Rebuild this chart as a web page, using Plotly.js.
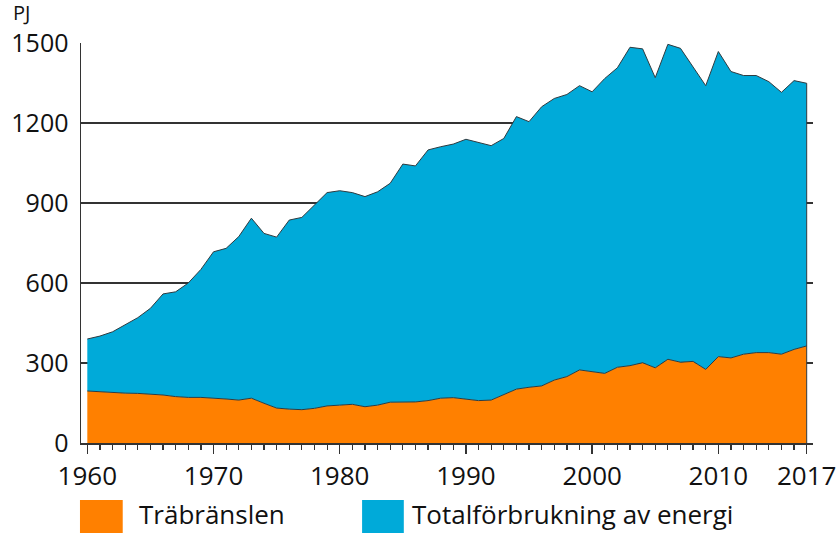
<!DOCTYPE html>
<html>
<head>
<meta charset="utf-8">
<script src="https://cdn.plot.ly/plotly-3.0.1.min.js"></script>
<style>
  html, body { margin: 0; padding: 0; background: #fff; }
  #grafica { width: 837px; height: 533px; }
</style>
</head>
<body>
<div id="grafica"></div>
<script>
// values, PJ per year
const anos = [];
for (let a = 1960; a <= 2017; a++) anos.push(a);

const trabransle = [
  195, 192, 189, 187, 186, 184, 180, 174, 171, 171,
  169, 165, 161, 168, 149, 131, 127, 125, 130, 139,
  142, 145, 136, 142, 153, 153, 154, 159, 168, 170,
  165, 159, 161, 182, 202, 209, 214, 236, 249, 274,
  267, 261, 284, 290, 301, 282, 314, 303, 306, 276,
  324, 319, 333, 339, 339, 333, 351, 364
];

const totalt = [
  390, 401, 417, 442, 470, 505, 559, 567, 600, 651,
  717, 730, 774, 843, 786, 772, 836, 846, 892, 939,
  946, 939, 924, 942, 974, 1046, 1039, 1099, 1111, 1121,
  1139, 1127, 1115, 1142, 1224, 1205, 1261, 1292, 1307, 1340,
  1317, 1367, 1407, 1484, 1478, 1370, 1495, 1480, 1411, 1340,
  1468, 1393, 1378, 1378, 1355, 1315, 1359, 1349
];

const etiquetasX = [1960, 1970, 1980, 1990, 2000, 2010, 2017];
const etiquetasY = [0, 300, 600, 900, 1200, 1500];
const nombres = ['Träbränslen', 'Totalförbrukning av energi'];

const naranja = '#ff8000', azul = '#00aad9', borde = '#2f3b40', oscuro = '#333333';
const fuente = 'Open Sans, sans-serif';
const tam = 25;

const trazaMadera = {
  x: anos, y: trabransle, type: 'scatter', mode: 'lines',
  fill: 'tozeroy', fillcolor: naranja,
  line: { color: borde, width: 1 },
  name: nombres[0], hoverinfo: 'x+y'
};

const trazaTotal = {
  x: anos, y: totalt, type: 'scatter', mode: 'lines',
  fill: 'tonexty', fillcolor: azul,
  line: { color: borde, width: 1 },
  name: nombres[1], hoverinfo: 'x+y'
};

// plot area is 81..813 px wide and 43..443 px high, legend sits below it
const ultimo = anos.length - 1;
const layout = {
  width: 837, height: 533,
  margin: { l: 81, r: 24, t: 43, b: 90 },
  paper_bgcolor: '#fff', plot_bgcolor: '#fff',
  showlegend: false,
  font: { family: fuente, size: tam, color: '#111' },
  xaxis: {
    range: [1959.5, 2017.5],
    tickvals: etiquetasX,
    ticks: 'outside', ticklen: 9, tickwidth: 1.5, tickcolor: oscuro,
    minor: { dtick: 1, tick0: 1960, ticks: 'outside', ticklen: 5, tickwidth: 1.2, tickcolor: oscuro, showgrid: false },
    showgrid: false, zeroline: false,
    showline: true, linecolor: oscuro, linewidth: 1.5,
    tickfont: { family: fuente, size: 26, color: '#111' },
    fixedrange: true
  },
  yaxis: {
    range: [0, 1500],
    tickvals: etiquetasY,
    ticks: '', ticklabelstandoff: 6,
    showgrid: true, gridcolor: oscuro, gridwidth: 1.5,
    zeroline: false,
    showline: true, linecolor: oscuro, linewidth: 1.5,
    tickfont: { family: fuente, size: tam, color: '#111' },
    fixedrange: true
  },
  shapes: [
    // right edge of the area at the last year
    { type: 'line', xref: 'x', yref: 'y', x0: anos[ultimo], x1: anos[ultimo], y0: 0, y1: totalt[ultimo],
      line: { color: borde, width: 1 } },
    // legend boxes
    { type: 'rect', xref: 'paper', yref: 'paper', x0: -0.0014, x1: 0.057, y0: -0.1425, y1: -0.26,
      fillcolor: naranja, line: { width: 0 } },
    { type: 'rect', xref: 'paper', yref: 'paper', x0: 0.384, x1: 0.441, y0: -0.1425, y1: -0.26,
      fillcolor: azul, line: { width: 0 } }
  ],
  annotations: [
    { text: 'PJ', xref: 'paper', yref: 'paper', x: -0.095, y: 1.077, xanchor: 'left', yanchor: 'middle',
      showarrow: false, font: { family: fuente, size: 20, color: '#111' } },
    { text: nombres[0], xref: 'paper', yref: 'paper', x: 0.077, y: -0.178, xanchor: 'left', yanchor: 'middle',
      showarrow: false, font: { family: fuente, size: 26, color: '#111' } },
    { text: nombres[1], xref: 'paper', yref: 'paper', x: 0.45, y: -0.178, xanchor: 'left', yanchor: 'middle',
      showarrow: false, font: { family: fuente, size: 26, color: '#111' } }
  ]
};

Plotly.newPlot('grafica', [trazaMadera, trazaTotal], layout, { displayModeBar: false, staticPlot: true });
</script>
</body>
</html>
